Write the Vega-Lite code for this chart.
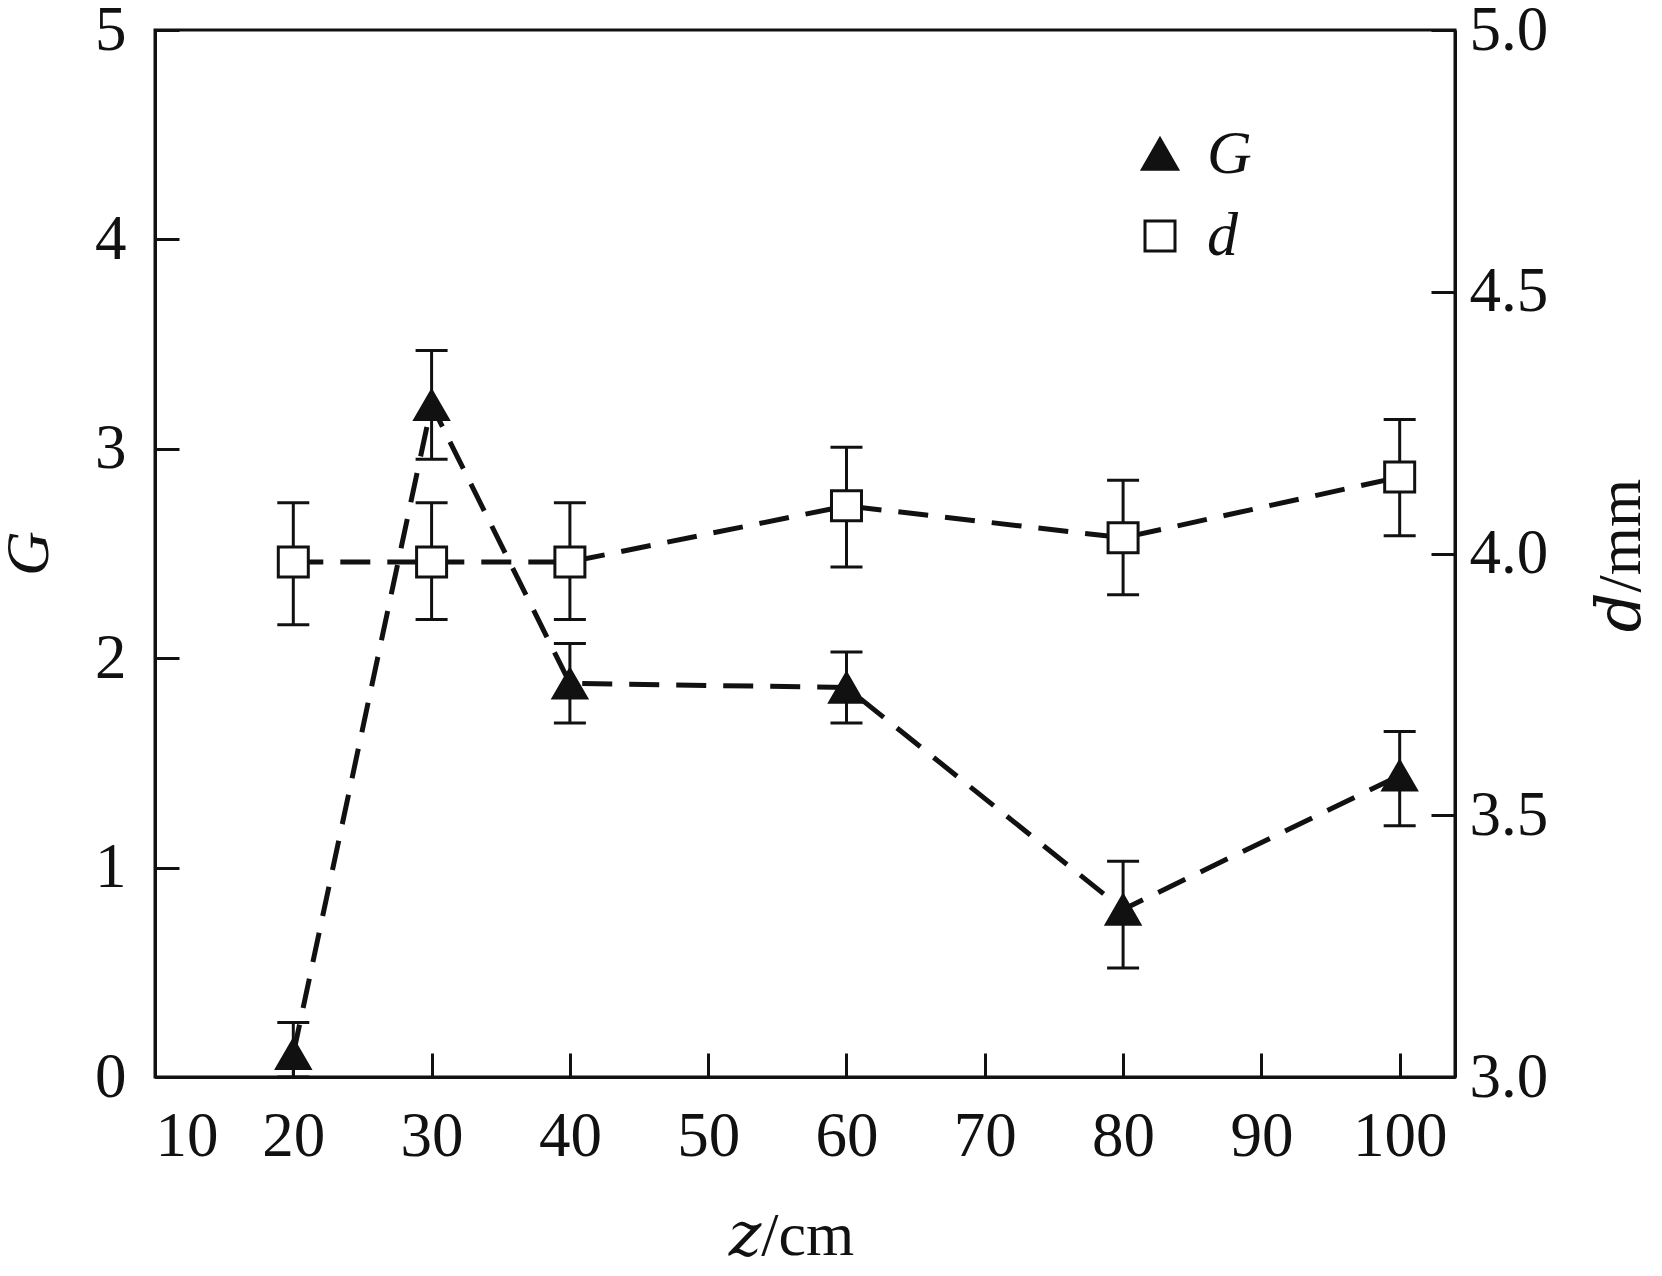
{
  "$schema": "https://vega.github.io/schema/vega-lite/v6.json",
  "width": 1300,
  "height": 1047,
  "autosize": {"type": "none"},
  "padding": {"left": 155, "top": 30, "right": 207, "bottom": 199},
  "background": "white",
  "config": {
    "font": "Liberation Serif",
    "view": {"stroke": "#111", "strokeWidth": 3},
    "axis": {
      "grid": false,
      "domainColor": "#111",
      "domainWidth": 3,
      "tickColor": "#111",
      "tickWidth": 3,
      "tickSize": -24,
      "labelFont": "Liberation Serif",
      "labelFontSize": 63,
      "labelColor": "#111",
      "labelPadding": 53,
      "titleFont": "Liberation Serif, DejaVu Serif",
      "titleFontSize": 62,
      "titleFontWeight": "normal",
      "titleColor": "#111"
    },
    "legend": {
      "orient": "none",
      "legendX": 974,
      "legendY": 93,
      "padding": 0,
      "labelFont": "Liberation Serif",
      "labelFontSize": 62,
      "labelFontStyle": "italic",
      "labelColor": "#111",
      "labelOffset": 16,
      "rowPadding": 20,
      "symbolStrokeWidth": 3
    }
  },
  "data": {
    "values": [
      {"z": 20, "series": "G", "value": 0.11, "lo": 0.0, "hi": 0.26},
      {"z": 30, "series": "G", "value": 3.21, "lo": 2.95, "hi": 3.47},
      {"z": 40, "series": "G", "value": 1.88, "lo": 1.69, "hi": 2.07},
      {"z": 60, "series": "G", "value": 1.86, "lo": 1.69, "hi": 2.03},
      {"z": 80, "series": "G", "value": 0.8, "lo": 0.52, "hi": 1.03},
      {"z": 100, "series": "G", "value": 1.44, "lo": 1.2, "hi": 1.65},
      {"z": 20, "series": "d", "value": 3.984, "lo": 3.864, "hi": 4.097},
      {"z": 30, "series": "d", "value": 3.984, "lo": 3.874, "hi": 4.097},
      {"z": 40, "series": "d", "value": 3.984, "lo": 3.874, "hi": 4.097},
      {"z": 60, "series": "d", "value": 4.091, "lo": 3.974, "hi": 4.203},
      {"z": 80, "series": "d", "value": 4.03, "lo": 3.921, "hi": 4.14},
      {"z": 100, "series": "d", "value": 4.146, "lo": 4.034, "hi": 4.256}
    ]
  },
  "encoding": {
    "x": {
      "field": "z",
      "type": "quantitative",
      "scale": {"domain": [10, 104], "nice": false},
      "axis": {
        "title": "𝑧/cm",
        "values": [10, 20, 30, 40, 50, 60, 70, 80, 90, 100],
        "labelPadding": 52,
        "titleX": 636,
        "titleY": 158,
        "titleBaseline": "middle",
        "titleAlign": "center"
      }
    }
  },
  "layer": [
    {
      "transform": [{"filter": "datum.series === 'G'"}],
      "layer": [
        {
          "mark": {"type": "line", "color": "#111", "strokeWidth": 5, "strokeDash": [30, 17]},
          "encoding": {
            "y": {
              "field": "value",
              "type": "quantitative",
              "scale": {"domain": [0, 5], "nice": false},
              "axis": {"title": "G", "titleFontStyle": "italic", "values": [0, 1, 2, 3, 4, 5], "format": "d", "titleX": -127, "titleY": 523, "titleAngle": -90, "titleBaseline": "middle", "titleAlign": "center"}
            }
          }
        },
        {
          "mark": {
            "type": "errorbar",
            "rule": {"strokeWidth": 3, "color": "#111", "opacity": 1},
            "ticks": {"size": 32, "thickness": 3, "color": "#111", "opacity": 1}
          },
          "encoding": {
            "y": {
              "field": "lo",
              "type": "quantitative",
              "scale": {"domain": [0, 5], "nice": false},
              "axis": {"title": "G", "titleFontStyle": "italic", "values": [0, 1, 2, 3, 4, 5], "format": "d", "titleX": -127, "titleY": 523, "titleAngle": -90, "titleBaseline": "middle", "titleAlign": "center"}
            },
            "y2": {"field": "hi"}
          }
        },
        {
          "mark": {"type": "point", "filled": true, "strokeWidth": 2, "opacity": 1},
          "encoding": {
            "y": {
              "field": "value",
              "type": "quantitative",
              "scale": {"domain": [0, 5], "nice": false},
              "axis": {"title": "G", "titleFontStyle": "italic", "values": [0, 1, 2, 3, 4, 5], "format": "d", "titleX": -127, "titleY": 523, "titleAngle": -90, "titleBaseline": "middle", "titleAlign": "center"}
            },
            "stroke": {"field": "series", "type": "nominal", "scale": {"domain": ["G", "d"], "range": ["#111", "#111"]}, "legend": {"title": null}},
            "shape": {"field": "series", "type": "nominal", "scale": {"domain": ["G", "d"], "range": ["triangle-up", "square"]}, "legend": {"title": null}},
            "fill": {"field": "series", "type": "nominal", "scale": {"domain": ["G", "d"], "range": ["#111", "white"]}, "legend": {"title": null}},
            "size": {"field": "series", "type": "nominal", "scale": {"domain": ["G", "d"], "range": [1225, 900]}, "legend": {"title": null}}
          }
        }
      ]
    },
    {
      "transform": [{"filter": "datum.series === 'd'"}],
      "layer": [
        {
          "mark": {"type": "line", "color": "#111", "strokeWidth": 5, "strokeDash": [30, 17]},
          "encoding": {
            "y": {
              "field": "value",
              "type": "quantitative",
              "scale": {"domain": [3, 5], "nice": false},
              "axis": {"orient": "right", "title": "𝑑/mm", "values": [3, 3.5, 4, 4.5, 5], "format": ".1f", "labelPadding": 38, "titleX": 165, "titleY": 525, "titleAngle": -90, "titleBaseline": "middle", "titleAlign": "center"}
            }
          }
        },
        {
          "mark": {
            "type": "errorbar",
            "rule": {"strokeWidth": 3, "color": "#111", "opacity": 1},
            "ticks": {"size": 32, "thickness": 3, "color": "#111", "opacity": 1}
          },
          "encoding": {
            "y": {
              "field": "lo",
              "type": "quantitative",
              "scale": {"domain": [3, 5], "nice": false},
              "axis": {"orient": "right", "title": "𝑑/mm", "values": [3, 3.5, 4, 4.5, 5], "format": ".1f", "labelPadding": 38, "titleX": 165, "titleY": 525, "titleAngle": -90, "titleBaseline": "middle", "titleAlign": "center"}
            },
            "y2": {"field": "hi"}
          }
        },
        {
          "mark": {"type": "point", "filled": true, "strokeWidth": 3, "opacity": 1},
          "encoding": {
            "y": {
              "field": "value",
              "type": "quantitative",
              "scale": {"domain": [3, 5], "nice": false},
              "axis": {"orient": "right", "title": "𝑑/mm", "values": [3, 3.5, 4, 4.5, 5], "format": ".1f", "labelPadding": 38, "titleX": 165, "titleY": 525, "titleAngle": -90, "titleBaseline": "middle", "titleAlign": "center"}
            },
            "stroke": {"field": "series", "type": "nominal", "scale": {"domain": ["G", "d"], "range": ["#111", "#111"]}, "legend": {"title": null}},
            "shape": {"field": "series", "type": "nominal", "scale": {"domain": ["G", "d"], "range": ["triangle-up", "square"]}, "legend": {"title": null}},
            "fill": {"field": "series", "type": "nominal", "scale": {"domain": ["G", "d"], "range": ["#111", "white"]}, "legend": {"title": null}},
            "size": {"field": "series", "type": "nominal", "scale": {"domain": ["G", "d"], "range": [1225, 900]}, "legend": {"title": null}}
          }
        }
      ]
    }
  ],
  "resolve": {"scale": {"y": "independent"}}
}
